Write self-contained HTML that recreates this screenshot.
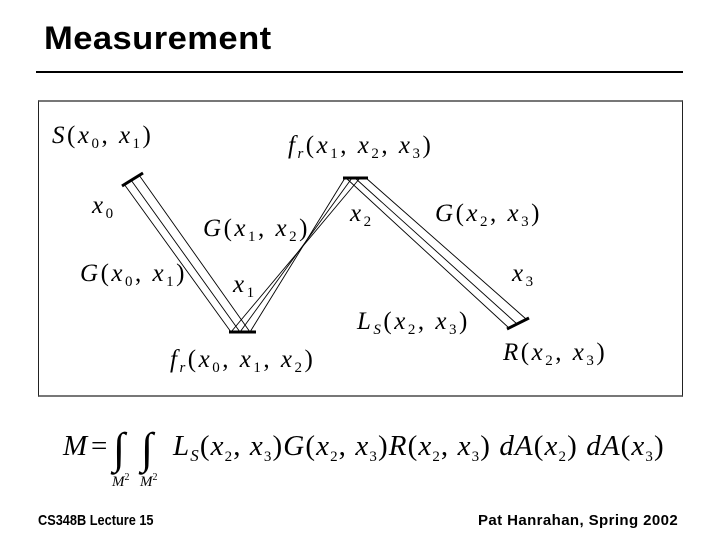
<!DOCTYPE html>
<html><head><style>
body{margin:0;width:720px;height:540px;background:#fff;overflow:hidden;position:relative;font-family:"Liberation Sans",sans-serif}
.t{position:absolute;left:44px;top:20px;font-size:32px;font-weight:bold;letter-spacing:0.4px;transform:scaleX(1.08);transform-origin:left}
.f{position:absolute;top:512px;font-size:15px;font-weight:bold}
svg text{letter-spacing:2.5px}
.u{font-style:normal}
.s{font-size:15px;font-style:normal}
</style></head><body>
<div class="t">Measurement</div>
<div style="position:absolute;left:36px;top:71px;width:647px;height:2px;background:#000"></div>
<div style="position:absolute;left:38px;top:100px;width:643px;height:293px;border:1px solid #222;border-top:2px solid #777;border-bottom:2px solid #777"></div>
<svg width="720" height="540" style="position:absolute;left:0;top:0" font-family="Liberation Serif,serif">
<g stroke="#000" stroke-width="0.9" fill="none">
<line x1="124" y1="184" x2="231" y2="332"/>
<line x1="131" y1="180" x2="240" y2="332"/>
<line x1="139" y1="175" x2="250" y2="332"/>
<line x1="231" y1="332" x2="360" y2="178"/>
<line x1="240" y1="332" x2="352" y2="178"/>
<line x1="250" y1="332" x2="345" y2="178"/>
<line x1="346" y1="178" x2="509" y2="328"/>
<line x1="355" y1="178" x2="517" y2="324"/>
<line x1="366" y1="178" x2="526" y2="319"/>
</g>
<g stroke="#000" stroke-width="3">
<line x1="122" y1="186" x2="143" y2="173"/>
<line x1="229" y1="332" x2="256" y2="332"/>
<line x1="343" y1="178" x2="368" y2="178"/>
<line x1="507" y1="329" x2="529" y2="318"/>
</g>
<g font-size="25" font-style="italic">
<text x="52" y="143">S<tspan class="u">(</tspan>x<tspan class="s" dy="5">0</tspan><tspan class="u" dy="-5">, </tspan>x<tspan class="s" dy="5">1</tspan><tspan class="u" dy="-5">)</tspan></text>
<text x="92" y="213">x<tspan class="s" dy="5">0</tspan></text>
<text x="80" y="281">G<tspan class="u">(</tspan>x<tspan class="s" dy="5">0</tspan><tspan class="u" dy="-5">, </tspan>x<tspan class="s" dy="5">1</tspan><tspan class="u" dy="-5">)</tspan></text>
<text x="203" y="236">G<tspan class="u">(</tspan>x<tspan class="s" dy="5">1</tspan><tspan class="u" dy="-5">, </tspan>x<tspan class="s" dy="5">2</tspan><tspan class="u" dy="-5">)</tspan></text>
<text x="233" y="292">x<tspan class="s" dy="5">1</tspan></text>
<text x="170" y="367">f<tspan font-size="15" dy="5">r</tspan><tspan class="u" dy="-5">(</tspan>x<tspan class="s" dy="5">0</tspan><tspan class="u" dy="-5">, </tspan>x<tspan class="s" dy="5">1</tspan><tspan class="u" dy="-5">, </tspan>x<tspan class="s" dy="5">2</tspan><tspan class="u" dy="-5">)</tspan></text>
<text x="288" y="153">f<tspan font-size="15" dy="5">r</tspan><tspan class="u" dy="-5">(</tspan>x<tspan class="s" dy="5">1</tspan><tspan class="u" dy="-5">, </tspan>x<tspan class="s" dy="5">2</tspan><tspan class="u" dy="-5">, </tspan>x<tspan class="s" dy="5">3</tspan><tspan class="u" dy="-5">)</tspan></text>
<text x="350" y="221">x<tspan class="s" dy="5">2</tspan></text>
<text x="435" y="221">G<tspan class="u">(</tspan>x<tspan class="s" dy="5">2</tspan><tspan class="u" dy="-5">, </tspan>x<tspan class="s" dy="5">3</tspan><tspan class="u" dy="-5">)</tspan></text>
<text x="512" y="281">x<tspan class="s" dy="5">3</tspan></text>
<text x="357" y="329">L<tspan font-size="15" dy="5">S</tspan><tspan class="u" dy="-5">(</tspan>x<tspan class="s" dy="5">2</tspan><tspan class="u" dy="-5">, </tspan>x<tspan class="s" dy="5">3</tspan><tspan class="u" dy="-5">)</tspan></text>
<text x="503" y="360">R<tspan class="u">(</tspan>x<tspan class="s" dy="5">2</tspan><tspan class="u" dy="-5">, </tspan>x<tspan class="s" dy="5">3</tspan><tspan class="u" dy="-5">)</tspan></text>
</g>
<g font-size="29" font-style="italic">
<text x="63" y="455" style="letter-spacing:0">M</text>
<text x="91" y="455" class="u" style="letter-spacing:0">=</text>
<text x="113" y="463" font-size="44" class="u" style="letter-spacing:0">∫</text>
<text x="141" y="463" font-size="44" class="u" style="letter-spacing:0">∫</text>
<text x="112" y="486" font-size="15" style="letter-spacing:0">M<tspan font-size="10" font-style="normal" dy="-6">2</tspan></text>
<text x="140" y="486" font-size="15" style="letter-spacing:0">M<tspan font-size="10" font-style="normal" dy="-6">2</tspan></text>
<text x="173" y="455" style="letter-spacing:1.1px">L<tspan font-size="17" dy="6">S</tspan><tspan class="u" dy="-6">(</tspan>x<tspan class="s" font-size="17" dy="6">2</tspan><tspan class="u" dy="-6">, </tspan>x<tspan class="s" font-size="17" dy="6">3</tspan><tspan class="u" dy="-6">)</tspan>G<tspan class="u">(</tspan>x<tspan class="s" font-size="17" dy="6">2</tspan><tspan class="u" dy="-6">, </tspan>x<tspan class="s" font-size="17" dy="6">3</tspan><tspan class="u" dy="-6">)</tspan>R<tspan class="u">(</tspan>x<tspan class="s" font-size="17" dy="6">2</tspan><tspan class="u" dy="-6">, </tspan>x<tspan class="s" font-size="17" dy="6">3</tspan><tspan class="u" dy="-6">) </tspan>dA<tspan class="u">(</tspan>x<tspan class="s" font-size="17" dy="6">2</tspan><tspan class="u" dy="-6">) </tspan>dA<tspan class="u">(</tspan>x<tspan class="s" font-size="17" dy="6">3</tspan><tspan class="u" dy="-6">)</tspan></text>
</g>
</svg>
<div class="f" style="left:38px;transform:scaleX(0.85);transform-origin:left">CS348B Lecture 15</div>
<div class="f" style="left:478px;letter-spacing:0.4px">Pat Hanrahan, Spring 2002</div>
</body></html>
